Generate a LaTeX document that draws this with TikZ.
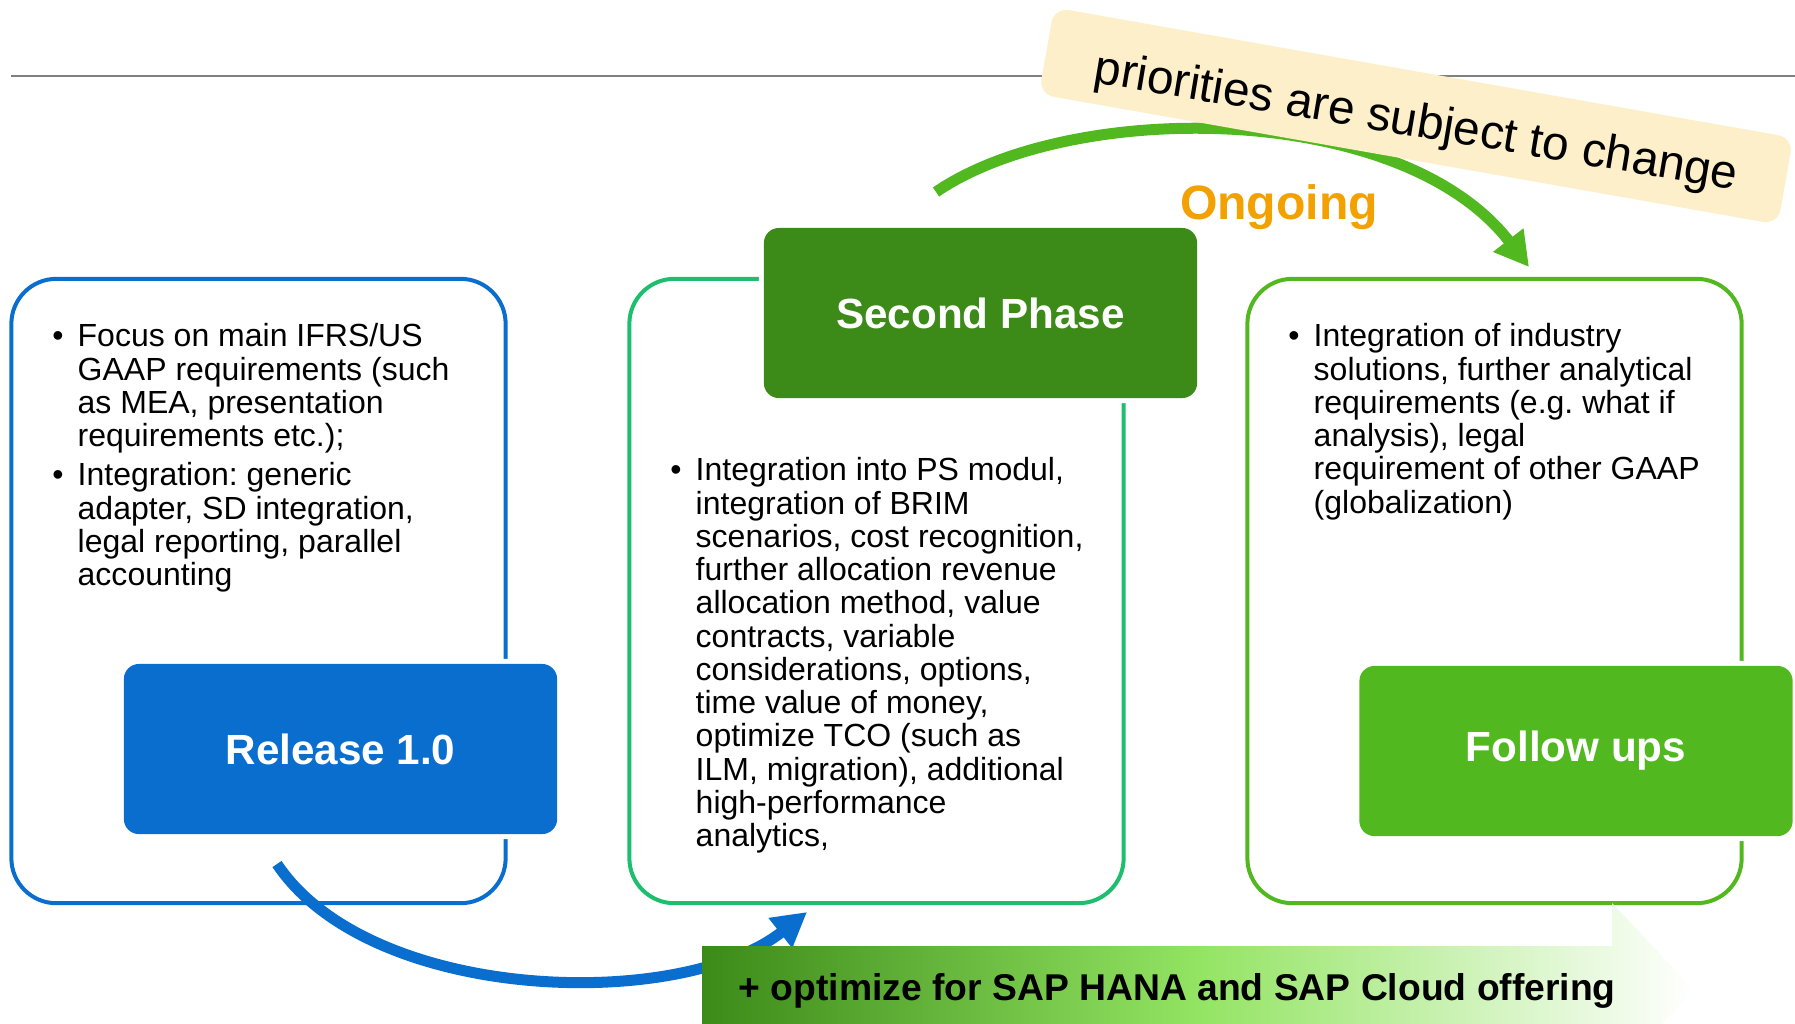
\documentclass[tikz,border=0pt]{standalone}
\usepackage{fontspec}
\setmainfont{Liberation Sans}
\usetikzlibrary{positioning}
\usetikzlibrary{arrows.meta}
\usetikzlibrary{shadings}
\definecolor{relblue}{HTML}{0A6ECF}
\definecolor{midgreen}{HTML}{1DBF6E}
\definecolor{darkgreen}{HTML}{3C8A18}
\definecolor{litegreen}{HTML}{52B820}
\definecolor{palegreen}{HTML}{93E463}
\definecolor{cream}{HTML}{FDEFC9}
\definecolor{ongoing}{HTML}{F2A100}
\definecolor{rulegray}{HTML}{808080}
\pgfdeclarehorizontalshading{offering}{100bp}{color(0bp)=(darkgreen); color(25bp)=(darkgreen);
    color(50bp)=(palegreen); color(75bp)=(white); color(100bp)=(white)}
\tikzset{
    frame/.style={draw, line width=0.04cm, rounded corners=0.45cm,
        minimum width=4.94cm, minimum height=6.24cm},
    phase/.style={rounded corners=0.15cm, preaction={draw=white, line width=0.1cm},
        minimum width=4.33cm, minimum height=1.70cm, text=white,
        font=\bfseries\fontsize{12}{14}\selectfont},
    bullets/.style={anchor=north west, inner sep=0pt, align=left,
        font=\fontsize{9.1}{9.45}\selectfont},
    flow/.style={line width=0.11cm, -{Triangle[length=0.34cm,width=0.36cm]}},
}
\newcommand{\bul}{\llap{\textbullet\hspace{4pt}}}
\frenchspacing

\begin{document}
\begin{tikzpicture}[x=0.01cm, y=-0.01cm]
\clip (0,0) rectangle (1795,1023);
% \draw[step=100, very thin, gray!30] (0,0) grid (1795,1023);
\draw[rulegray, line width=0.02cm] (11,75.5) -- (1795,75.5);

% top arc, behind the note
\coordinate (phaseout) at (936,192);
\coordinate (followin) at (1529,267);
\draw[flow, litegreen] (phaseout) .. controls (1070,100) and (1400,100) .. (followin);
\node[fill=cream, rounded corners=0.15cm, rotate=-10, minimum width=7.5cm, minimum height=0.88cm] (prio) at (1416,116) {};
\node[rotate=-9.5, font=\fontsize{13.6}{16}\selectfont] (priotext) at (1416,124) {priorities are subject to change};
\node[text=ongoing, inner sep=0pt, font=\bfseries\fontsize{13.7}{16}\selectfont] (ongoing) at (1279,207) {Ongoing};

% frames
\node[frame, draw=relblue] (relframe) at (258.5,591) {};
\node[frame, draw=midgreen] (phaseframe) at (876.5,591) {};
\node[frame, draw=litegreen] (followframe) at (1494.5,591) {};

\node[phase, fill=relblue] (release) at (340.5,749) {Release 1.0};
\node[phase, fill=darkgreen] (second) at (980.5,313) {Second Phase};
\node[phase, fill=litegreen] (follow) at (1576,751) {Follow ups};

% texts
\node[bullets] (relA) at (77,323) {\bul Focus on main IFRS/US\\GAAP requirements (such\\as MEA, presentation\\requirements etc.);};
\node[bullets, below right=0.08cm and 0cm of relA.south west] (relB) {\bul Integration: generic\\adapter, SD integration,\\legal reporting, parallel\\accounting};
\node[bullets] (phaseA) at (695,457) {\bul Integration into PS modul,\\integration of BRIM\\scenarios, cost recognition,\\further allocation revenue\\allocation method, value\\contracts, variable\\considerations, options,\\time value of money,\\optimize TCO (such as\\ILM, migration), additional\\high-performance\\analytics,};
\node[bullets] (followA) at (1313,323) {\bul Integration of industry\\solutions, further analytical\\requirements (e.g. what if\\analysis), legal\\requirement of other GAAP\\(globalization)};

% bottom arrow and banner
\coordinate (relout) at (277,864);
\coordinate (phasein) at (807,912);
\draw[flow, relblue] (relout) .. controls (370,1003) and (680,1012) .. (phasein);
\shade[shading=offering] (702,946) -- (1612,946) -- (1612,903) -- (1694,990) -- (1612,1077) -- (1612,1034) -- (702,1034) -- cycle;
\node[anchor=west, inner sep=0pt, font=\bfseries\fontsize{10.6}{13}\selectfont] (offer) at (738,991) {+ optimize for SAP HANA and SAP Cloud offering};
\end{tikzpicture}
\end{document}
